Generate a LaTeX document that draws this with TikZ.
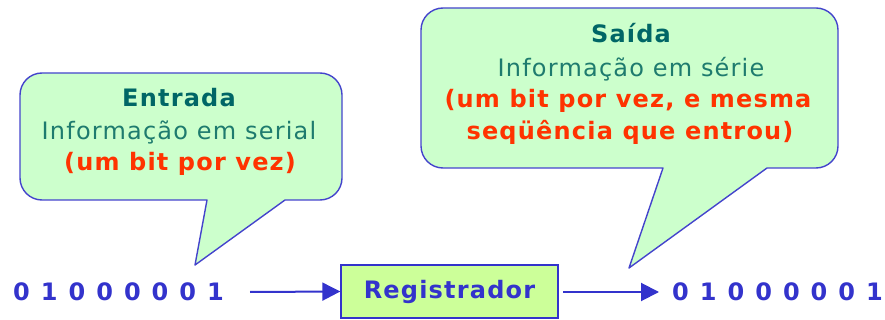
\documentclass[tikz,border=0pt]{standalone}
\usepackage{fontspec}
\setmainfont{DejaVu Sans}[LetterSpace=5]
\newfontfamily\bitfont{DejaVu Sans}
\usetikzlibrary{arrows.meta}
\definecolor{bubfill}{HTML}{CCFFCC}
\definecolor{bubline}{HTML}{4444CC}
\definecolor{titlecol}{HTML}{006666}
\definecolor{bodycol}{HTML}{1E7B6E}
\definecolor{redcol}{HTML}{FF3300}
\definecolor{bitcol}{HTML}{3333CC}
\definecolor{regfill}{HTML}{CCFF99}
\newcommand{\bitrow}{0\hspace{11pt}1\hspace{11pt}0\hspace{11pt}0\hspace{11pt}0\hspace{11pt}0\hspace{11pt}0\hspace{11pt}1}
\tikzset{
  bubble/.style={draw=bubline, fill=bubfill, line width=1.4pt, line join=round},
  txt/.style={anchor=base, inner sep=0pt, font=\fontsize{24}{30}\selectfont},
  titletxt/.style={txt, text=titlecol, font=\fontsize{24}{30}\selectfont\bfseries},
  bodytxt/.style={txt, text=bodycol},
  redtxt/.style={txt, text=redcol, font=\fontsize{24}{30}\selectfont\bfseries},
  bits/.style={txt, text=bitcol, font=\bitfont\fontsize{24}{30}\selectfont\bfseries},
  regbox/.style={draw=bitcol, fill=regfill, line width=1.4pt, minimum width=217pt, minimum height=53pt, inner sep=0pt, text=bitcol, font=\fontsize{24}{30}\selectfont\bfseries},
  conn/.style={draw=bitcol, line width=2pt, -{Triangle[length=18pt,width=18pt]}},
}
\begin{document}
\begin{tikzpicture}[x=1pt, y=-1pt]
\useasboundingbox (0,0) rectangle (885,320);
% left bubble
\draw[bubble] (207,200) -- (195,265) -- (285,200)
  {[rounded corners=22pt] -- (342,200) -- (342,73) -- (20,73) -- (20,200)} -- cycle;
% right bubble
\draw[bubble] (663,168) -- (629,268) -- (767,168)
  {[rounded corners=22pt] -- (838,168) -- (838,8) -- (421,8) -- (421,168)} -- cycle;
% left bubble texts
\node[titletxt] (entT) at (179,107) {Entrada};
\node[bodytxt] (entB) at (179,140) {Informação em serial};
\node[redtxt] (entR) at (180,171) {(um bit por vez)};
% right bubble texts
\node[titletxt] (saiT) at (631,43) {Saída};
\node[bodytxt] (saiB) at (631,77) {Informação em série};
\node[redtxt] (saiR1) at (628,108) {(um bit por vez, e mesma};
\node[redtxt] (saiR2) at (630,140) {seqüência que entrou)};
% bottom row
\node[bits, anchor=base west] (bitsL) at (13,300) {\bitrow};
\node[regbox] (reg) at (449.5,291.5) {Registrador};
\node[bits, anchor=base west] (bitsR) at (672,300) {\bitrow};
\coordinate (a1) at (250,292);
\coordinate (a2) at (563,292);
\draw[conn] (a1) -- (reg.west);
\draw[conn, shorten >=13pt] (a2) -- (bitsR.west |- a2);
\end{tikzpicture}
\end{document}
